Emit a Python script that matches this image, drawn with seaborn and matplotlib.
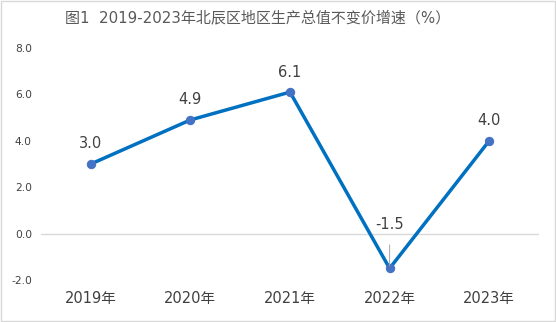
import matplotlib
matplotlib.use("Agg")
import matplotlib.pyplot as plt
import seaborn as sns
import pandas as pd

years = ["2019年", "2020年", "2021年", "2022年", "2023年"]
growth = [3.0, 4.9, 6.1, -1.5, 4.0]
yticks = [-2.0, 0.0, 2.0, 4.0, 6.0, 8.0]
title = "图1  2019-2023年北辰区地区生产总值不变价增速（%）"

sns.set_theme(style="white")
plt.rcParams['font.family'] = ['DejaVu Sans', 'Noto Sans CJK SC']

df = pd.DataFrame({"year": years, "growth": growth})

fig = plt.figure(figsize=(5.56, 3.22), dpi=100, facecolor="white")
ax = fig.add_axes([41/556, (322-280)/322, 498/556, (280-48)/322])

ax.axhline(0, color="#d9d9d9", lw=1, zorder=0)
sns.lineplot(data=df, x="year", y="growth", ax=ax, color="#0070C0", lw=2.5,
             marker="o", markersize=6, markerfacecolor="#4472C4",
             markeredgecolor="#4472C4", sort=False)

ax.set_xlim(-0.5, len(years) - 0.5)
ax.set_ylim(-2, 8)
ax.set_yticks(yticks)
ax.set_yticklabels([f"{v:.1f}" for v in yticks], fontsize=7.7, color="#404040")
ax.tick_params(axis="x", labelsize=10.5, colors="#404040", pad=8, length=0)
ax.tick_params(axis="y", pad=6.5, length=0)
ax.set_xlabel("")
ax.set_ylabel("")
for s in ax.spines.values():
    s.set_visible(False)

for i, v in enumerate(growth):
    if v < 0:
        ax.annotate(f"{v:.1f}", xy=(i, v), xytext=(0, 44), textcoords="offset pixels",
                    ha="center", va="center", fontsize=10.5, color="#404040",
                    arrowprops=dict(arrowstyle="-", color="#a6a6a6", lw=0.7,
                                    shrinkA=7, shrinkB=2))
    else:
        ax.annotate(f"{v:.1f}", xy=(i, v), xytext=(0, 20), textcoords="offset pixels",
                    ha="center", va="center", fontsize=10.5, color="#404040")

fig.text(258/556, 1 - 18/322, title, ha="center", va="center", fontsize=10.8, color="#595959")

fig.patches.append(plt.Rectangle((0.001, 0.002), 0.997, 0.995, transform=fig.transFigure,
                                 fill=False, edgecolor="#d9d9d9", lw=1))
fig.savefig("out.png", dpi=100, facecolor="white")
